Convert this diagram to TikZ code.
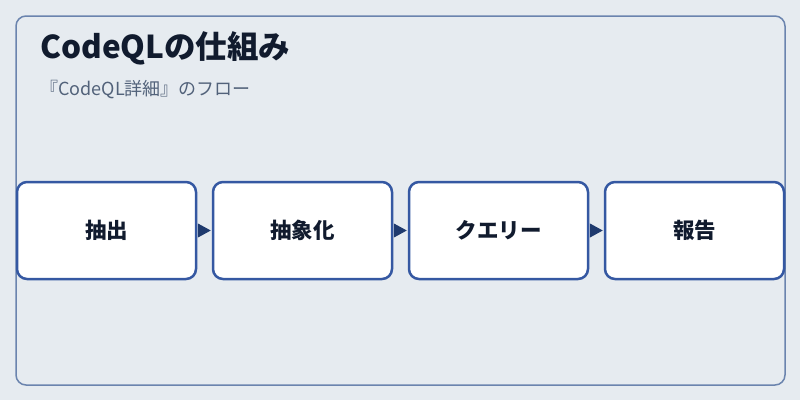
\documentclass[tikz,border=0pt]{standalone}
\usepackage{fontspec}
\setmainfont{Noto Sans CJK JP}
\usetikzlibrary{arrows.meta}
\definecolor{bgc}{HTML}{E6EBF0}
\definecolor{framec}{HTML}{6B84AE}
\definecolor{boxc}{HTML}{3558A2}
\definecolor{arrc}{HTML}{1F3A6E}
\definecolor{titlec}{HTML}{111B2E}
\definecolor{subc}{HTML}{52627A}
\tikzset{
  stepbox/.style={draw=boxc, line width=2.5pt, fill=white, rounded corners=10pt,
    minimum width=179pt, minimum height=97pt, inner sep=0pt,
    font=\fontsize{21.5pt}{24pt}\selectfont\bfseries, text=titlec},
  flow/.style={draw=arrc, line width=1pt, -{Triangle[length=13pt,width=14pt]}, shorten >=1pt, shorten <=1pt},
}
\begin{document}
\begin{tikzpicture}[x=1pt,y=-1pt]
\fill[bgc] (0,0) rectangle (800,400);
\useasboundingbox (0,0) rectangle (800,400);
\draw[framec, line width=1.5pt, rounded corners=10pt] (16,16) rectangle (785,385);
\node[anchor=base west, inner sep=0pt, text=titlec, font=\fontsize{31.5pt}{36pt}\selectfont\bfseries] (title) at (40,58) {CodeQLの仕組み};
\node[anchor=base west, inner sep=0pt, text=subc, font=\fontsize{18pt}{21pt}\selectfont] (sub) at (40,95) {『CodeQL詳細』のフロー};
\node[stepbox] (b1) at (106.5,230.5) {\raisebox{-1.5pt}{抽出}};
\node[stepbox] (b2) at (302.5,230.5) {\raisebox{-1.5pt}{抽象化}};
\node[stepbox] (b3) at (498.5,230.5) {\raisebox{-1.5pt}{クエリー}};
\node[stepbox] (b4) at (694.5,230.5) {\raisebox{-1.5pt}{報告}};
\draw[flow] (b1.east) -- (b2.west);
\draw[flow] (b2.east) -- (b3.west);
\draw[flow] (b3.east) -- (b4.west);
\end{tikzpicture}
\end{document}
